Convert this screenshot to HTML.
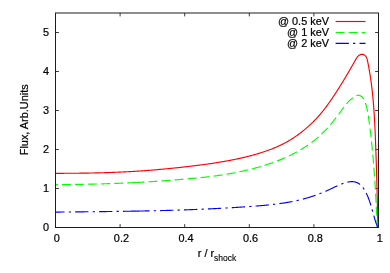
<!DOCTYPE html>
<html><head><meta charset="utf-8"><title>plot</title>
<style>
html,body{margin:0;padding:0;background:#fff;}
svg{display:block;will-change:transform}
text{font-family:"Liberation Sans",sans-serif;font-size:10.9px;fill:#000;stroke:#000;stroke-width:0.22px}
</style></head><body>
<svg width="390" height="273" viewBox="0 0 390 273">

<g stroke="#3c3c3c" stroke-width="1" fill="none">
<path d="M120.10,227.5 v-3.4 M120.10,13.0 v3.4"/>
<path d="M184.70,227.5 v-3.4 M184.70,13.0 v3.4"/>
<path d="M249.30,227.5 v-3.4 M249.30,13.0 v3.4"/>
<path d="M313.90,227.5 v-3.4 M313.90,13.0 v3.4"/>
<path d="M55.5,188.50 h3.4 M378.5,188.50 h-3.4"/>
<path d="M55.5,149.50 h3.4 M378.5,149.50 h-3.4"/>
<path d="M55.5,110.50 h3.4 M378.5,110.50 h-3.4"/>
<path d="M55.5,71.50 h3.4 M378.5,71.50 h-3.4"/>
<path d="M55.5,32.50 h3.4 M378.5,32.50 h-3.4"/>
</g>
<text x="56.80" y="241.9" text-anchor="middle">0</text>
<text x="121.40" y="241.9" text-anchor="middle">0.2</text>
<text x="186.00" y="241.9" text-anchor="middle">0.4</text>
<text x="250.60" y="241.9" text-anchor="middle">0.6</text>
<text x="315.20" y="241.9" text-anchor="middle">0.8</text>
<text x="379.80" y="241.9" text-anchor="middle">1</text>
<text x="49" y="231.30" text-anchor="end">0</text>
<text x="49" y="192.30" text-anchor="end">1</text>
<text x="49" y="153.30" text-anchor="end">2</text>
<text x="49" y="114.30" text-anchor="end">3</text>
<text x="49" y="75.30" text-anchor="end">4</text>
<text x="49" y="36.30" text-anchor="end">5</text>
<text x="217" y="257" text-anchor="middle">r / r<tspan dy="3.8" dx="-0.2" font-size="8.55" stroke-width="0.12">shock</tspan></text>
<text transform="translate(28,119.8) rotate(-90)" text-anchor="middle">Flux, Arb.Units</text>
<text x="329" y="25.30" text-anchor="end">@ 0.5 keV</text>
<path d="M335.6,21.50 H365.5" stroke="#ff0000" stroke-width="1.15" fill="none"/>
<text x="329" y="36.25" text-anchor="end">@ 1 keV</text>
<path d="M335.6,32.45 H365.5" stroke="#00ff00" stroke-width="1.15" fill="none" stroke-dasharray="9 4.07"/>
<text x="329" y="47.20" text-anchor="end">@ 2 keV</text>
<path d="M335.6,43.40 H365.5" stroke="#0000ff" stroke-width="1.15" fill="none" stroke-dasharray="13.3 4.15 2.3 4.15"/>
<path d="M55.50,173.30 L56.26,173.30 L57.01,173.30 L57.77,173.30 L58.53,173.30 L59.28,173.30 L60.04,173.30 L60.80,173.30 L61.55,173.30 L62.31,173.30 L63.06,173.30 L63.82,173.30 L64.58,173.29 L65.33,173.29 L66.09,173.29 L66.85,173.29 L67.60,173.28 L68.36,173.28 L69.12,173.28 L69.87,173.27 L70.63,173.27 L71.38,173.26 L72.14,173.26 L72.90,173.25 L73.65,173.25 L74.41,173.24 L75.17,173.23 L75.92,173.23 L76.68,173.22 L77.43,173.21 L78.19,173.20 L78.95,173.20 L79.70,173.19 L80.46,173.18 L81.22,173.17 L81.97,173.16 L82.73,173.15 L83.48,173.14 L84.24,173.13 L85.00,173.12 L85.75,173.11 L86.51,173.09 L87.26,173.08 L88.02,173.07 L88.78,173.06 L89.53,173.04 L90.29,173.03 L91.04,173.01 L91.80,173.00 L92.56,172.98 L93.31,172.97 L94.07,172.95 L94.82,172.93 L95.58,172.92 L96.34,172.90 L97.09,172.88 L97.85,172.86 L98.60,172.84 L99.36,172.83 L100.12,172.81 L100.87,172.78 L101.63,172.76 L102.38,172.74 L103.14,172.72 L103.89,172.70 L104.65,172.68 L105.41,172.65 L106.16,172.63 L106.92,172.61 L107.67,172.58 L108.43,172.56 L109.18,172.53 L109.94,172.50 L110.70,172.48 L111.45,172.45 L112.21,172.42 L112.96,172.39 L113.72,172.36 L114.47,172.33 L115.23,172.30 L115.98,172.27 L116.74,172.24 L117.50,172.21 L118.25,172.18 L119.01,172.15 L119.76,172.11 L120.52,172.08 L121.27,172.04 L122.03,172.01 L122.78,171.97 L123.54,171.94 L124.29,171.90 L125.05,171.86 L125.80,171.82 L126.56,171.79 L127.31,171.75 L128.07,171.71 L128.82,171.67 L129.58,171.62 L130.33,171.58 L131.09,171.54 L131.84,171.50 L132.60,171.45 L133.35,171.41 L134.11,171.36 L134.86,171.32 L135.62,171.27 L136.37,171.22 L137.13,171.18 L137.88,171.13 L138.64,171.08 L139.39,171.03 L140.15,170.98 L140.90,170.93 L141.66,170.88 L142.41,170.82 L143.17,170.77 L143.92,170.72 L144.68,170.66 L145.43,170.61 L146.19,170.55 L146.94,170.50 L147.69,170.44 L148.45,170.38 L149.20,170.32 L149.96,170.26 L150.71,170.20 L151.47,170.14 L152.22,170.08 L152.98,170.02 L153.73,169.96 L154.48,169.90 L155.24,169.83 L155.99,169.77 L156.75,169.70 L157.50,169.64 L158.25,169.57 L159.01,169.50 L159.76,169.44 L160.51,169.37 L161.27,169.30 L162.02,169.23 L162.78,169.16 L163.53,169.09 L164.28,169.02 L165.04,168.95 L165.79,168.88 L166.54,168.80 L167.30,168.73 L168.05,168.66 L168.80,168.58 L169.56,168.51 L170.31,168.43 L171.06,168.36 L171.81,168.28 L172.57,168.20 L173.32,168.13 L174.07,168.05 L174.83,167.97 L175.58,167.89 L176.33,167.81 L177.08,167.73 L177.84,167.65 L178.59,167.57 L179.34,167.49 L180.09,167.40 L180.84,167.32 L181.60,167.24 L182.35,167.16 L183.10,167.07 L183.85,166.99 L184.60,166.90 L185.35,166.82 L186.10,166.73 L186.86,166.64 L187.61,166.56 L188.36,166.47 L189.11,166.38 L189.86,166.29 L190.61,166.20 L191.36,166.11 L192.11,166.02 L192.86,165.93 L193.61,165.84 L194.36,165.75 L195.11,165.66 L195.86,165.57 L196.61,165.47 L197.36,165.38 L198.11,165.29 L198.86,165.19 L199.61,165.09 L200.36,165.00 L201.11,164.90 L201.86,164.80 L202.61,164.70 L203.36,164.60 L204.11,164.50 L204.86,164.40 L205.60,164.30 L206.35,164.20 L207.10,164.09 L207.85,163.99 L208.60,163.88 L209.34,163.78 L210.09,163.67 L210.84,163.56 L211.59,163.45 L212.33,163.34 L213.08,163.23 L213.83,163.12 L214.57,163.00 L215.32,162.89 L216.07,162.77 L216.81,162.65 L217.56,162.54 L218.30,162.42 L219.05,162.30 L219.79,162.17 L220.54,162.05 L221.28,161.93 L222.03,161.80 L222.77,161.67 L223.52,161.54 L224.26,161.41 L225.00,161.28 L225.75,161.15 L226.49,161.02 L227.23,160.88 L227.97,160.74 L228.72,160.61 L229.46,160.47 L230.20,160.32 L230.94,160.18 L231.68,160.04 L232.43,159.89 L233.17,159.74 L233.91,159.59 L234.65,159.44 L235.39,159.29 L236.13,159.13 L236.87,158.98 L237.61,158.82 L238.35,158.66 L239.09,158.50 L239.82,158.34 L240.56,158.17 L241.30,158.01 L242.04,157.84 L242.78,157.67 L243.51,157.49 L244.25,157.32 L244.99,157.14 L245.72,156.97 L246.46,156.79 L247.20,156.60 L247.93,156.42 L248.67,156.23 L249.40,156.05 L250.14,155.86 L250.87,155.66 L251.60,155.47 L252.34,155.27 L253.07,155.07 L253.80,154.87 L254.54,154.67 L255.27,154.46 L256.00,154.25 L256.73,154.04 L257.46,153.83 L258.19,153.61 L258.91,153.40 L259.64,153.17 L260.37,152.95 L261.09,152.72 L261.82,152.49 L262.54,152.26 L263.26,152.03 L263.98,151.79 L264.70,151.55 L265.42,151.30 L266.14,151.05 L266.86,150.80 L267.57,150.55 L268.28,150.29 L269.00,150.03 L269.71,149.76 L270.42,149.50 L271.13,149.23 L271.83,148.95 L272.54,148.67 L273.24,148.39 L273.94,148.11 L274.64,147.82 L275.34,147.52 L276.03,147.23 L276.73,146.93 L277.42,146.62 L278.11,146.31 L278.80,146.00 L279.48,145.68 L280.17,145.36 L280.85,145.04 L281.53,144.71 L282.21,144.37 L282.88,144.03 L283.56,143.69 L284.23,143.34 L284.89,142.99 L285.56,142.64 L286.22,142.28 L286.89,141.91 L287.54,141.54 L288.20,141.17 L288.85,140.79 L289.50,140.40 L290.15,140.01 L290.80,139.62 L291.44,139.22 L292.08,138.82 L292.71,138.41 L293.35,138.00 L293.98,137.58 L294.61,137.15 L295.23,136.73 L295.85,136.30 L296.47,135.86 L297.09,135.42 L297.70,134.98 L298.32,134.53 L298.93,134.08 L299.53,133.62 L300.14,133.17 L300.74,132.70 L301.33,132.24 L301.93,131.77 L302.52,131.30 L303.11,130.83 L303.70,130.35 L304.29,129.87 L304.87,129.39 L305.45,128.90 L306.03,128.41 L306.60,127.92 L307.18,127.43 L307.75,126.93 L308.31,126.43 L308.88,125.93 L309.44,125.43 L309.99,124.92 L310.55,124.41 L311.10,123.89 L311.65,123.37 L312.19,122.85 L312.73,122.33 L313.27,121.80 L313.81,121.27 L314.34,120.73 L314.86,120.19 L315.39,119.65 L315.91,119.10 L316.43,118.55 L316.94,118.00 L317.45,117.44 L317.95,116.88 L318.46,116.32 L318.96,115.75 L319.45,115.18 L319.94,114.61 L320.43,114.04 L320.92,113.46 L321.40,112.87 L321.88,112.29 L322.36,111.70 L322.83,111.11 L323.31,110.52 L323.77,109.92 L324.24,109.33 L324.70,108.73 L325.16,108.13 L325.62,107.52 L326.08,106.92 L326.53,106.31 L326.98,105.70 L327.43,105.08 L327.87,104.47 L328.32,103.86 L328.76,103.24 L329.20,102.62 L329.64,102.00 L330.07,101.38 L330.50,100.75 L330.93,100.13 L331.36,99.51 L331.79,98.88 L332.22,98.25 L332.64,97.62 L333.06,96.99 L333.49,96.36 L333.91,95.73 L334.32,95.10 L334.74,94.47 L335.16,93.84 L335.57,93.21 L335.98,92.57 L336.39,91.94 L336.80,91.31 L337.21,90.67 L337.62,90.04 L338.03,89.40 L338.43,88.76 L338.84,88.13 L339.24,87.49 L339.64,86.85 L340.04,86.21 L340.44,85.57 L340.84,84.94 L341.24,84.29 L341.63,83.65 L342.03,83.01 L342.42,82.37 L342.82,81.73 L343.21,81.09 L343.60,80.44 L343.99,79.80 L344.38,79.15 L344.77,78.51 L345.16,77.86 L345.55,77.21 L345.93,76.56 L346.32,75.92 L346.70,75.27 L347.09,74.62 L347.47,73.96 L347.85,73.31 L348.23,72.66 L348.61,72.01 L348.99,71.35 L349.37,70.70 L349.75,70.04 L350.13,69.39 L350.51,68.73 L350.88,68.07 L351.26,67.41 L351.64,66.75 L352.01,66.09 L352.39,65.43 L352.76,64.77 L353.13,64.11 L353.51,63.44 L353.88,62.78 L354.25,62.11 L354.62,61.45 L354.99,60.78 L355.36,60.11 L355.74,59.44 L356.11,58.78 L356.51,58.13 L356.93,57.50 L357.38,56.90 L357.88,56.34 L358.43,55.82 L359.04,55.36 L359.72,54.96 L360.45,54.65 L361.22,54.44 L362.00,54.36 L362.76,54.42 L363.50,54.63 L364.20,54.96 L364.83,55.39 L365.39,55.90 L365.87,56.46 L366.27,57.06 L366.60,57.71 L366.88,58.39 L367.11,59.10 L367.30,59.83 L367.47,60.57 L367.63,61.32 L367.78,62.07 L367.94,62.82 L368.08,63.57 L368.23,64.32 L368.38,65.07 L368.52,65.82 L368.66,66.57 L368.80,67.32 L368.94,68.07 L369.07,68.82 L369.20,69.57 L369.33,70.32 L369.46,71.07 L369.59,71.82 L369.71,72.57 L369.84,73.32 L369.96,74.07 L370.08,74.82 L370.20,75.57 L370.31,76.32 L370.43,77.08 L370.54,77.83 L370.65,78.58 L370.76,79.33 L370.86,80.08 L370.97,80.83 L371.07,81.58 L371.17,82.33 L371.27,83.09 L371.37,83.84 L371.47,84.59 L371.56,85.34 L371.66,86.09 L371.75,86.84 L371.84,87.59 L371.93,88.35 L372.02,89.10 L372.10,89.85 L372.19,90.60 L372.27,91.35 L372.35,92.11 L372.43,92.86 L372.51,93.61 L372.59,94.36 L372.67,95.12 L372.74,95.87 L372.81,96.62 L372.89,97.37 L372.96,98.13 L373.03,98.88 L373.10,99.63 L373.16,100.38 L373.23,101.14 L373.29,101.89 L373.36,102.64 L373.42,103.40 L373.48,104.15 L373.54,104.90 L373.60,105.65 L373.66,106.41 L373.72,107.16 L373.77,107.91 L373.83,108.67 L373.88,109.42 L373.94,110.17 L373.99,110.93 L374.04,111.68 L374.09,112.44 L374.14,113.19 L374.19,113.94 L374.24,114.70 L374.28,115.45 L374.33,116.20 L374.37,116.96 L374.42,117.71 L374.46,118.47 L374.51,119.22 L374.55,119.97 L374.59,120.73 L374.63,121.48 L374.67,122.24 L374.71,122.99 L374.75,123.74 L374.79,124.50 L374.83,125.25 L374.86,126.01 L374.90,126.76 L374.94,127.52 L374.97,128.27 L375.01,129.03 L375.04,129.78 L375.07,130.54 L375.11,131.29 L375.14,132.05 L375.17,132.80 L375.21,133.55 L375.24,134.31 L375.27,135.06 L375.30,135.82 L375.33,136.57 L375.36,137.33 L375.39,138.09 L375.42,138.84 L375.45,139.60 L375.48,140.35 L375.51,141.11 L375.54,141.86 L375.57,142.62 L375.60,143.37 L375.63,144.13 L375.66,144.88 L375.69,145.64 L375.71,146.39 L375.74,147.15 L375.77,147.91 L375.80,148.66 L375.82,149.42 L375.85,150.17 L375.88,150.93 L375.90,151.68 L375.93,152.44 L375.96,153.20 L375.98,153.95 L376.01,154.71 L376.03,155.46 L376.06,156.22 L376.08,156.98 L376.11,157.73 L376.13,158.49 L376.16,159.24 L376.18,160.00 L376.21,160.76 L376.23,161.51 L376.25,162.27 L376.28,163.03 L376.30,163.78 L376.33,164.54 L376.35,165.29 L376.37,166.05 L376.39,166.81 L376.42,167.56 L376.44,168.32 L376.46,169.08 L376.48,169.83 L376.51,170.59 L376.53,171.35 L376.55,172.10 L376.57,172.86 L376.59,173.61 L376.61,174.37 L376.64,175.13 L376.66,175.88 L376.68,176.64 L376.70,177.40 L376.72,178.15 L376.74,178.91 L376.76,179.67 L376.78,180.42 L376.80,181.18 L376.82,181.94 L376.84,182.69 L376.86,183.45 L376.88,184.21 L376.90,184.96 L376.92,185.72 L376.94,186.47 L376.96,187.23 L376.98,187.99 L377.00,188.74 L377.02,189.50 L377.03,190.26 L377.05,191.01 L377.07,191.77 L377.09,192.53 L377.11,193.28 L377.13,194.04 L377.15,194.80 L377.16,195.55 L377.18,196.31 L377.20,197.06 L377.22,197.82 L377.24,198.58 L377.26,199.33 L377.27,200.09 L377.29,200.85 L377.31,201.60 L377.33,202.36 L377.35,203.11 L377.36,203.87 L377.38,204.63 L377.40,205.38 L377.42,206.14 L377.43,206.90 L377.45,207.65 L377.47,208.41 L377.49,209.16 L377.50,209.92 L377.52,210.68 L377.54,211.43 L377.56,212.19 L377.57,212.94 L377.59,213.70 L377.61,214.46 L377.62,215.21 L377.64,215.97 L377.66,216.72 L377.68,217.48 L377.69,218.23 L377.71,218.99 L377.73,219.75 L377.74,220.50 L377.76,221.26 L377.78,222.01 L377.80,222.77 L377.81,223.52 L377.83,224.28 L377.85,225.03 L377.87,225.79 L377.88,226.54 L377.90,227.30" stroke="#ff0000" stroke-width="1.15" fill="none" stroke-linejoin="round"/>
<path d="M55.50,184.70 L56.17,184.69 L56.83,184.69 L57.50,184.68 L58.16,184.67 L58.83,184.67 L59.50,184.66 L60.16,184.65 L60.83,184.64 L61.50,184.64 L62.16,184.63 L62.83,184.62 L63.50,184.61 L64.16,184.60 L64.83,184.60 L65.50,184.59 L66.16,184.58 L66.83,184.57 L67.50,184.56 L68.16,184.55 L68.83,184.54 L69.50,184.53 L70.16,184.52 L70.83,184.51 L71.50,184.50 L72.16,184.49 L72.83,184.48 L73.50,184.47 L74.16,184.46 L74.83,184.45 L75.50,184.44 L76.17,184.43 L76.83,184.42 L77.50,184.41 L78.17,184.40 L78.83,184.38 L79.50,184.37 L80.17,184.36 L80.84,184.35 L81.50,184.34 L82.17,184.32 L82.84,184.31 L83.50,184.30 L84.17,184.28 L84.84,184.27 L85.51,184.26 L86.17,184.24 L86.84,184.23 L87.51,184.21 L88.17,184.20 L88.84,184.18 L89.51,184.17 L90.18,184.15 L90.84,184.14 L91.51,184.12 L92.18,184.11 L92.85,184.09 L93.51,184.08 L94.18,184.06 L94.85,184.04 L95.52,184.03 L96.18,184.01 L96.85,183.99 L97.52,183.97 L98.18,183.96 L98.85,183.94 L99.52,183.92 L100.19,183.90 L100.85,183.88 L101.52,183.86 L102.19,183.85 L102.86,183.83 L103.52,183.81 L104.19,183.79 L104.86,183.77 L105.52,183.75 L106.19,183.73 L106.86,183.70 L107.53,183.68 L108.19,183.66 L108.86,183.64 L109.53,183.62 L110.20,183.60 L110.86,183.57 L111.53,183.55 L112.20,183.53 L112.86,183.50 L113.53,183.48 L114.20,183.46 L114.86,183.43 L115.53,183.41 L116.20,183.38 L116.87,183.36 L117.53,183.33 L118.20,183.31 L118.87,183.28 L119.53,183.26 L120.20,183.23 L120.87,183.20 L121.53,183.18 L122.20,183.15 L122.87,183.12 L123.53,183.09 L124.20,183.07 L124.87,183.04 L125.53,183.01 L126.20,182.98 L126.87,182.95 L127.53,182.92 L128.20,182.89 L128.87,182.86 L129.53,182.83 L130.20,182.80 L130.86,182.77 L131.53,182.74 L132.20,182.71 L132.86,182.67 L133.53,182.64 L134.20,182.61 L134.86,182.57 L135.53,182.54 L136.19,182.51 L136.65,182.48" stroke="#00ff00" stroke-width="1.15" fill="none" stroke-dasharray="9 4.07" stroke-dashoffset="6.57" stroke-linejoin="round"/>
<path d="M136.25,182.50 L136.86,182.47 L137.52,182.44 L138.19,182.40 L138.86,182.37 L139.52,182.33 L140.19,182.30 L140.85,182.26 L141.52,182.23 L142.18,182.19 L142.85,182.15 L143.52,182.11 L144.18,182.08 L144.85,182.04 L145.51,182.00 L146.18,181.96 L146.84,181.92 L147.51,181.88 L148.17,181.84 L148.84,181.80 L149.50,181.76 L150.17,181.72 L150.83,181.68 L151.50,181.64 L152.16,181.59 L152.82,181.55 L153.49,181.51 L154.15,181.47 L154.82,181.42 L155.48,181.38 L156.15,181.33 L156.81,181.29 L157.48,181.24 L158.14,181.20 L158.80,181.15 L159.47,181.11 L160.13,181.06 L160.80,181.01 L161.46,180.97 L162.13,180.92 L162.79,180.87 L163.45,180.82 L164.12,180.77 L164.78,180.73 L165.45,180.68 L166.11,180.63 L166.78,180.58 L167.44,180.53 L168.10,180.48 L168.77,180.43 L169.43,180.37 L170.10,180.32 L170.76,180.27 L171.43,180.22 L172.09,180.17 L172.76,180.11 L173.42,180.06 L174.08,180.01 L174.75,179.95 L175.41,179.90 L176.08,179.84 L176.74,179.79 L177.41,179.73 L178.07,179.68 L178.74,179.62 L179.40,179.57 L180.07,179.51 L180.74,179.45 L181.40,179.40 L182.07,179.34 L182.73,179.28 L183.40,179.22 L184.06,179.16 L184.73,179.11 L185.40,179.05 L186.06,178.99 L186.73,178.93 L187.40,178.87 L188.06,178.81 L188.73,178.75 L189.40,178.69 L190.06,178.63 L190.73,178.56 L191.40,178.50 L192.06,178.44 L192.73,178.38 L193.40,178.32 L194.07,178.25 L194.73,178.19 L195.40,178.13 L196.07,178.06 L196.74,178.00 L197.41,177.93 L198.07,177.86 L198.74,177.80 L199.41,177.73 L200.08,177.66 L200.74,177.59 L201.41,177.53 L202.08,177.46 L202.74,177.39 L203.41,177.31 L204.08,177.24 L204.74,177.17 L205.41,177.10 L206.07,177.02 L206.74,176.95 L207.40,176.87 L208.07,176.80 L208.73,176.72 L209.40,176.64 L210.06,176.56 L210.72,176.48 L211.39,176.40 L212.05,176.32 L212.71,176.24 L213.37,176.15 L214.03,176.07 L214.69,175.98 L215.35,175.89 L216.01,175.81 L216.67,175.72 L217.33,175.63 L217.99,175.53 L218.65,175.44 L219.30,175.35 L219.96,175.25 L220.62,175.16 L221.27,175.06 L221.93,174.96 L222.58,174.86 L223.23,174.76 L223.89,174.66 L224.54,174.55 L225.19,174.45 L225.84,174.34 L226.49,174.23 L227.14,174.12 L227.79,174.01 L228.45,173.90 L229.10,173.79 L229.74,173.67 L230.39,173.56 L231.04,173.44 L231.69,173.32 L232.34,173.20 L232.99,173.08 L233.64,172.96 L234.29,172.83 L234.94,172.71 L235.59,172.58 L236.23,172.46 L236.88,172.33 L237.53,172.20 L238.18,172.06 L238.83,171.93 L239.48,171.79 L240.13,171.66 L240.78,171.52 L241.43,171.38 L242.08,171.24 L242.73,171.10 L243.38,170.96 L244.03,170.81 L244.68,170.66 L245.33,170.52 L245.99,170.37 L246.64,170.22 L247.29,170.06 L247.94,169.91 L248.59,169.75 L249.24,169.60 L249.89,169.44 L250.54,169.28 L251.19,169.11 L251.84,168.95 L252.49,168.78 L253.14,168.62 L253.79,168.45 L254.44,168.28 L255.09,168.10 L255.74,167.93 L256.39,167.75 L257.04,167.58 L257.69,167.40 L258.34,167.22 L258.98,167.03 L259.63,166.85 L260.28,166.66 L260.92,166.47 L261.57,166.28 L262.21,166.09 L262.86,165.90 L263.50,165.70 L264.15,165.50 L264.79,165.30 L265.43,165.10 L266.08,164.90 L266.72,164.69 L267.36,164.48 L268.00,164.27 L268.64,164.06 L269.28,163.85 L269.91,163.63 L270.55,163.41 L271.19,163.19 L271.82,162.97 L272.46,162.75 L273.09,162.52 L273.72,162.29 L274.36,162.06 L274.99,161.83 L275.62,161.59 L276.25,161.36 L276.88,161.12 L277.50,160.88 L278.13,160.63 L278.75,160.39 L279.38,160.14 L280.00,159.89 L280.62,159.63 L281.24,159.38 L281.86,159.12 L282.48,158.86 L283.10,158.60 L283.72,158.34 L284.33,158.07 L284.95,157.80 L285.56,157.53 L286.17,157.26 L286.78,156.98 L287.39,156.70 L287.99,156.42 L288.60,156.14 L289.20,155.85 L289.81,155.56 L290.41,155.27 L291.01,154.98 L291.61,154.68 L292.20,154.38 L292.80,154.08 L293.39,153.78 L293.99,153.47 L294.58,153.16 L295.17,152.85 L295.75,152.53 L296.34,152.22 L296.92,151.90 L297.51,151.58 L298.09,151.25 L298.66,150.92 L299.24,150.59 L299.82,150.26 L300.39,149.92 L300.96,149.59 L301.53,149.24 L302.10,148.90 L302.67,148.55 L303.23,148.20 L303.79,147.85 L304.35,147.50 L304.91,147.14 L305.47,146.78 L306.02,146.41 L306.57,146.05 L307.12,145.68 L307.67,145.30 L308.22,144.93 L308.76,144.55 L309.30,144.17 L309.84,143.78 L310.38,143.40 L310.92,143.01 L311.45,142.61 L311.98,142.22 L312.51,141.82 L313.03,141.41 L313.56,141.01 L314.08,140.60 L314.60,140.19 L315.11,139.77 L315.63,139.36 L316.14,138.93 L316.65,138.51 L317.16,138.08 L317.66,137.65 L318.16,137.22 L318.66,136.78 L319.16,136.34 L319.65,135.90 L320.14,135.45 L320.63,135.00 L321.12,134.55 L321.60,134.09 L322.08,133.63 L322.56,133.17 L323.04,132.70 L323.51,132.23 L323.98,131.76 L324.45,131.28 L324.91,130.81 L325.38,130.32 L325.84,129.84 L326.30,129.35 L326.75,128.86 L327.20,128.37 L327.66,127.88 L328.10,127.38 L328.55,126.88 L328.99,126.38 L329.44,125.88 L329.88,125.37 L330.31,124.86 L330.75,124.35 L331.18,123.84 L331.61,123.32 L332.04,122.81 L332.47,122.29 L332.90,121.77 L333.32,121.24 L333.74,120.72 L334.16,120.19 L334.58,119.67 L334.99,119.14 L335.41,118.61 L335.82,118.08 L336.23,117.54 L336.64,117.01 L337.05,116.47 L337.45,115.94 L337.86,115.40 L338.26,114.86 L338.66,114.32 L339.06,113.78 L339.45,113.24 L339.85,112.69 L340.24,112.15 L340.64,111.61 L341.03,111.06 L341.42,110.52 L341.81,109.98 L342.20,109.43 L342.60,108.89 L342.99,108.35 L343.39,107.82 L343.79,107.28 L344.19,106.75 L344.59,106.22 L345.00,105.70 L345.41,105.18 L345.83,104.66 L346.25,104.15 L346.67,103.65 L347.11,103.15 L347.55,102.66 L347.99,102.17 L348.44,101.69 L348.90,101.22 L349.37,100.76 L349.85,100.31 L350.34,99.86 L350.83,99.43 L351.34,99.00 L351.85,98.58 L352.38,98.18 L352.92,97.78 L353.47,97.40 L354.03,97.02 L354.60,96.66 L355.19,96.32 L355.79,96.00 L356.40,95.72 L357.01,95.49 L357.63,95.34 L358.26,95.27 L358.89,95.30 L359.52,95.43 L360.14,95.66 L360.74,95.96 L361.31,96.34 L361.86,96.77 L362.36,97.24 L362.81,97.75 L363.23,98.29 L363.60,98.85 L363.94,99.44 L364.25,100.05 L364.54,100.67 L364.80,101.31 L365.04,101.96 L365.27,102.61 L365.48,103.27 L365.69,103.92 L365.89,104.58 L366.08,105.23 L366.26,105.89 L366.43,106.54 L366.60,107.19 L366.77,107.85 L366.92,108.50 L367.07,109.16 L367.21,109.81 L367.35,110.46 L367.49,111.12 L367.61,111.77 L367.74,112.43 L367.86,113.08 L367.97,113.73 L368.08,114.39 L368.19,115.04 L368.29,115.69 L368.40,116.35 L368.49,117.00 L368.59,117.66 L368.68,118.31 L368.78,118.97 L368.87,119.62 L368.96,120.28 L369.04,120.94 L369.13,121.59 L369.22,122.25 L369.30,122.91 L369.39,123.56 L369.47,124.22 L369.56,124.88 L369.64,125.54 L369.73,126.20 L369.81,126.86 L369.89,127.52 L369.97,128.18 L370.05,128.84 L370.14,129.50 L370.22,130.16 L370.30,130.82 L370.37,131.49 L370.45,132.15 L370.53,132.81 L370.61,133.47 L370.69,134.14 L370.76,134.80 L370.84,135.46 L370.91,136.13 L370.99,136.79 L371.06,137.45 L371.14,138.12 L371.21,138.78 L371.28,139.45 L371.36,140.11 L371.43,140.78 L371.50,141.44 L371.57,142.10 L371.64,142.77 L371.71,143.44 L371.78,144.10 L371.85,144.77 L371.91,145.43 L371.98,146.10 L372.05,146.76 L372.11,147.43 L372.18,148.09 L372.25,148.76 L372.31,149.42 L372.37,150.09 L372.44,150.75 L372.50,151.42 L372.56,152.09 L372.63,152.75 L372.69,153.42 L372.75,154.08 L372.81,154.75 L372.87,155.41 L372.93,156.08 L372.99,156.74 L373.05,157.41 L373.10,158.07 L373.16,158.74 L373.22,159.40 L373.27,160.07 L373.33,160.73 L373.39,161.40 L373.44,162.07 L373.50,162.73 L373.55,163.40 L373.60,164.06 L373.66,164.73 L373.71,165.39 L373.76,166.06 L373.81,166.72 L373.87,167.39 L373.92,168.05 L373.97,168.72 L374.02,169.38 L374.07,170.05 L374.12,170.71 L374.17,171.38 L374.21,172.04 L374.26,172.71 L374.31,173.37 L374.36,174.04 L374.40,174.70 L374.45,175.37 L374.50,176.03 L374.54,176.70 L374.59,177.36 L374.63,178.03 L374.68,178.69 L374.72,179.36 L374.77,180.02 L374.81,180.69 L374.85,181.35 L374.90,182.02 L374.94,182.68 L374.98,183.35 L375.03,184.01 L375.07,184.68 L375.11,185.34 L375.15,186.01 L375.19,186.67 L375.23,187.34 L375.27,188.00 L375.31,188.67 L375.35,189.33 L375.39,190.00 L375.43,190.66 L375.47,191.33 L375.51,191.99 L375.55,192.66 L375.58,193.32 L375.62,193.99 L375.66,194.66 L375.70,195.32 L375.74,195.99 L375.77,196.65 L375.81,197.32 L375.85,197.98 L375.88,198.65 L375.92,199.31 L375.95,199.98 L375.99,200.64 L376.02,201.31 L376.06,201.98 L376.10,202.64 L376.13,203.31 L376.16,203.97 L376.20,204.64 L376.23,205.30 L376.27,205.97 L376.30,206.64 L376.34,207.30 L376.37,207.97 L376.40,208.63 L376.44,209.30 L376.47,209.97 L376.50,210.63 L376.54,211.30 L376.57,211.96 L376.60,212.63 L376.63,213.30 L376.67,213.96 L376.70,214.63 L376.73,215.30 L376.76,215.96 L376.80,216.63 L376.83,217.30 L376.86,217.96 L376.89,218.63 L376.92,219.30 L376.95,219.96 L376.99,220.63 L377.02,221.30 L377.05,221.96 L377.08,222.63 L377.11,223.30 L377.14,223.96 L377.18,224.63 L377.21,225.30 L377.24,225.97 L377.27,226.63 L377.30,227.30" stroke="#00ff00" stroke-width="1.15" fill="none" stroke-dasharray="9 4.07" stroke-dashoffset="0.8" stroke-linejoin="round"/>
<path d="M55.50,212.10 L56.01,212.09 L56.52,212.09 L57.03,212.08 L57.54,212.08 L58.05,212.07 L58.56,212.07 L59.07,212.06 L59.57,212.06 L60.08,212.05 L60.59,212.05 L61.10,212.04 L61.61,212.04 L62.12,212.03 L62.63,212.02 L63.14,212.02 L63.65,212.01 L64.16,212.01 L64.67,212.00 L65.18,212.00 L65.69,211.99 L66.20,211.99 L66.70,211.98 L67.21,211.98 L67.72,211.97 L68.23,211.97 L68.74,211.96 L69.25,211.96 L69.76,211.95 L70.27,211.95 L70.78,211.94 L71.29,211.94 L71.80,211.93 L72.31,211.93 L72.82,211.92 L73.33,211.91 L73.83,211.91 L74.34,211.90 L74.85,211.90 L75.36,211.89 L75.87,211.89 L76.38,211.88 L76.89,211.88 L77.40,211.87 L77.91,211.87 L78.42,211.86 L78.93,211.86 L79.44,211.85 L79.95,211.85 L80.45,211.84 L80.96,211.84 L81.47,211.83 L81.98,211.83 L82.49,211.82 L83.00,211.82 L83.51,211.81 L84.02,211.80 L84.53,211.80 L85.04,211.79 L85.55,211.79 L86.06,211.78 L86.56,211.78 L87.07,211.77 L87.58,211.77 L88.09,211.76 L88.60,211.76 L89.11,211.75 L89.62,211.75 L90.13,211.74 L90.64,211.73 L91.15,211.73 L91.66,211.72 L92.17,211.72 L92.67,211.71 L93.18,211.71 L93.69,211.70 L94.20,211.70 L94.71,211.69 L95.22,211.68 L95.73,211.68 L96.24,211.67 L96.75,211.67 L97.26,211.66 L97.77,211.66 L98.27,211.65 L98.78,211.64 L99.29,211.64 L99.80,211.63 L100.31,211.63 L100.82,211.62 L101.33,211.61 L101.84,211.61 L102.35,211.60 L102.86,211.60 L103.37,211.59 L103.87,211.58 L104.38,211.58 L104.89,211.57 L105.40,211.57 L105.91,211.56 L106.42,211.55 L106.93,211.55 L107.44,211.54 L107.95,211.53 L108.46,211.53 L108.96,211.52 L109.47,211.51 L109.98,211.51 L110.49,211.50 L111.00,211.49 L111.51,211.49 L112.02,211.48 L112.53,211.47 L113.04,211.47 L113.55,211.46 L114.06,211.45 L114.56,211.45 L115.07,211.44 L115.58,211.43 L116.09,211.43 L116.60,211.42 L117.11,211.41 L117.62,211.41 L118.13,211.40 L118.64,211.39 L119.15,211.38 L119.65,211.38 L120.16,211.37 L120.67,211.36 L121.18,211.35 L121.69,211.35 L122.20,211.34 L122.71,211.33 L123.22,211.32 L123.73,211.32 L124.24,211.31 L124.74,211.30 L125.25,211.29 L125.76,211.28 L126.27,211.28 L126.78,211.27 L127.29,211.26 L127.80,211.25 L128.31,211.24 L128.82,211.24 L129.32,211.23 L129.83,211.22 L130.34,211.21 L130.85,211.20 L131.36,211.19 L131.87,211.18 L132.38,211.18 L132.89,211.17 L133.40,211.16 L133.91,211.15 L134.41,211.14 L134.92,211.13 L135.43,211.12 L135.94,211.11 L136.65,211.10" stroke="#0000ff" stroke-width="1.15" fill="none" stroke-dasharray="13.3 4.15 2.3 4.15" stroke-dashoffset="4.2" stroke-linejoin="round"/>
<path d="M136.25,211.11 L136.45,211.10 L136.96,211.10 L137.47,211.09 L137.98,211.08 L138.49,211.07 L138.99,211.06 L139.50,211.05 L140.01,211.04 L140.52,211.03 L141.03,211.02 L141.54,211.01 L142.05,211.00 L142.56,210.99 L143.07,210.98 L143.58,210.97 L144.08,210.96 L144.59,210.95 L145.10,210.94 L145.61,210.93 L146.12,210.92 L146.63,210.91 L147.14,210.90 L147.65,210.89 L148.16,210.87 L148.66,210.86 L149.17,210.85 L149.68,210.84 L150.19,210.83 L150.70,210.82 L151.21,210.81 L151.72,210.80 L152.23,210.79 L152.74,210.77 L153.24,210.76 L153.75,210.75 L154.26,210.74 L154.77,210.73 L155.28,210.72 L155.79,210.70 L156.30,210.69 L156.81,210.68 L157.32,210.67 L157.82,210.65 L158.33,210.64 L158.84,210.63 L159.35,210.62 L159.86,210.60 L160.37,210.59 L160.88,210.58 L161.39,210.57 L161.89,210.55 L162.40,210.54 L162.91,210.53 L163.42,210.51 L163.93,210.50 L164.44,210.49 L164.95,210.47 L165.46,210.46 L165.97,210.45 L166.47,210.43 L166.98,210.42 L167.49,210.40 L168.00,210.39 L168.51,210.38 L169.02,210.36 L169.53,210.35 L170.04,210.33 L170.55,210.32 L171.05,210.30 L171.56,210.29 L172.07,210.27 L172.58,210.26 L173.09,210.24 L173.60,210.23 L174.11,210.21 L174.62,210.20 L175.12,210.18 L175.63,210.17 L176.14,210.15 L176.65,210.13 L177.16,210.12 L177.67,210.10 L178.18,210.09 L178.69,210.07 L179.20,210.05 L179.70,210.04 L180.21,210.02 L180.72,210.00 L181.23,209.99 L181.74,209.97 L182.25,209.95 L182.76,209.94 L183.27,209.92 L183.77,209.90 L184.28,209.88 L184.79,209.87 L185.30,209.85 L185.81,209.83 L186.32,209.81 L186.83,209.79 L187.34,209.78 L187.85,209.76 L188.35,209.74 L188.86,209.72 L189.37,209.70 L189.88,209.68 L190.39,209.66 L190.90,209.65 L191.41,209.63 L191.92,209.61 L192.42,209.59 L192.93,209.57 L193.44,209.55 L193.95,209.53 L194.46,209.51 L194.97,209.49 L195.48,209.47 L195.99,209.45 L196.49,209.43 L197.00,209.41 L197.51,209.39 L198.02,209.37 L198.53,209.35 L199.04,209.32 L199.55,209.30 L200.06,209.28 L200.57,209.26 L201.07,209.24 L201.58,209.22 L202.09,209.20 L202.60,209.17 L203.11,209.15 L203.62,209.13 L204.13,209.11 L204.64,209.09 L205.14,209.06 L205.65,209.04 L206.16,209.02 L206.67,208.99 L207.18,208.97 L207.69,208.95 L208.20,208.92 L208.71,208.90 L209.21,208.88 L209.72,208.85 L210.23,208.83 L210.74,208.81 L211.25,208.78 L211.76,208.76 L212.27,208.73 L212.78,208.71 L213.28,208.68 L213.79,208.66 L214.30,208.63 L214.81,208.61 L215.32,208.58 L215.83,208.56 L216.34,208.53 L216.85,208.51 L217.36,208.48 L217.86,208.45 L218.37,208.43 L218.88,208.40 L219.39,208.38 L219.90,208.35 L220.41,208.32 L220.92,208.29 L221.43,208.27 L221.93,208.24 L222.44,208.21 L222.95,208.19 L223.46,208.16 L223.97,208.13 L224.48,208.10 L224.99,208.07 L225.50,208.05 L226.00,208.02 L226.51,207.99 L227.02,207.96 L227.53,207.93 L228.04,207.90 L228.55,207.87 L229.06,207.84 L229.57,207.81 L230.07,207.78 L230.58,207.75 L231.09,207.72 L231.60,207.69 L232.11,207.66 L232.62,207.63 L233.13,207.60 L233.64,207.57 L234.15,207.54 L234.65,207.51 L235.16,207.48 L235.67,207.45 L236.18,207.41 L236.69,207.38 L237.20,207.35 L237.71,207.32 L238.22,207.29 L238.72,207.25 L239.23,207.22 L239.74,207.19 L240.25,207.15 L240.76,207.12 L241.27,207.09 L241.78,207.05 L242.29,207.02 L242.79,206.99 L243.30,206.95 L243.81,206.92 L244.32,206.88 L244.83,206.85 L245.34,206.81 L245.85,206.78 L246.36,206.74 L246.86,206.71 L247.37,206.67 L247.88,206.64 L248.39,206.60 L248.90,206.57 L249.41,206.53 L249.92,206.49 L250.43,206.46 L250.94,206.42 L251.44,206.38 L251.95,206.35 L252.46,206.31 L252.97,206.27 L253.48,206.23 L253.99,206.19 L254.50,206.16 L255.01,206.12 L255.51,206.08 L256.02,206.04 L256.53,206.00 L257.04,205.96 L257.55,205.92 L258.06,205.88 L258.56,205.84 L259.07,205.80 L259.58,205.75 L260.09,205.71 L260.60,205.67 L261.11,205.62 L261.61,205.58 L262.12,205.54 L262.63,205.49 L263.14,205.45 L263.65,205.40 L264.15,205.35 L264.66,205.31 L265.17,205.26 L265.68,205.21 L266.18,205.16 L266.69,205.11 L267.20,205.06 L267.70,205.01 L268.21,204.96 L268.72,204.91 L269.23,204.86 L269.73,204.81 L270.24,204.75 L270.74,204.70 L271.25,204.64 L271.76,204.59 L272.26,204.53 L272.77,204.47 L273.27,204.41 L273.78,204.36 L274.29,204.30 L274.79,204.24 L275.30,204.17 L275.80,204.11 L276.31,204.05 L276.81,203.98 L277.32,203.92 L277.82,203.85 L278.32,203.79 L278.83,203.72 L279.33,203.65 L279.84,203.58 L280.34,203.51 L280.84,203.44 L281.35,203.37 L281.85,203.29 L282.35,203.22 L282.85,203.14 L283.36,203.07 L283.86,202.99 L284.36,202.91 L284.86,202.83 L285.36,202.75 L285.87,202.67 L286.37,202.59 L286.87,202.50 L287.37,202.42 L287.87,202.33 L288.37,202.24 L288.87,202.16 L289.37,202.07 L289.87,201.98 L290.37,201.88 L290.87,201.79 L291.37,201.69 L291.86,201.60 L292.36,201.50 L292.86,201.40 L293.36,201.30 L293.86,201.20 L294.35,201.10 L294.85,201.00 L295.35,200.89 L295.84,200.78 L296.34,200.68 L296.84,200.57 L297.33,200.46 L297.83,200.34 L298.32,200.23 L298.82,200.11 L299.31,200.00 L299.81,199.88 L300.30,199.76 L300.79,199.64 L301.29,199.52 L301.78,199.39 L302.27,199.27 L302.77,199.14 L303.26,199.01 L303.75,198.88 L304.24,198.75 L304.73,198.62 L305.22,198.48 L305.71,198.35 L306.20,198.21 L306.69,198.07 L307.18,197.93 L307.67,197.78 L308.16,197.64 L308.65,197.49 L309.14,197.34 L309.63,197.19 L310.11,197.04 L310.60,196.89 L311.09,196.73 L311.57,196.57 L312.06,196.41 L312.54,196.25 L313.03,196.09 L313.51,195.93 L314.00,195.76 L314.48,195.60 L314.97,195.43 L315.45,195.26 L315.93,195.08 L316.41,194.91 L316.89,194.73 L317.37,194.56 L317.85,194.38 L318.33,194.20 L318.81,194.02 L319.29,193.84 L319.77,193.65 L320.24,193.46 L320.72,193.28 L321.19,193.09 L321.67,192.90 L322.14,192.71 L322.61,192.51 L323.09,192.32 L323.56,192.12 L324.03,191.92 L324.50,191.73 L324.97,191.52 L325.43,191.32 L325.90,191.12 L326.37,190.92 L326.83,190.71 L327.30,190.50 L327.76,190.30 L328.23,190.09 L328.69,189.87 L329.15,189.66 L329.61,189.45 L330.07,189.24 L330.52,189.02 L330.98,188.80 L331.44,188.59 L331.89,188.37 L332.35,188.15 L332.81,187.93 L333.26,187.71 L333.72,187.49 L334.17,187.27 L334.63,187.06 L335.09,186.84 L335.54,186.62 L336.00,186.41 L336.46,186.19 L336.92,185.98 L337.39,185.77 L337.85,185.56 L338.32,185.35 L338.78,185.15 L339.25,184.94 L339.73,184.74 L340.20,184.55 L340.68,184.35 L341.16,184.16 L341.64,183.97 L342.13,183.79 L342.62,183.61 L343.11,183.43 L343.60,183.26 L344.10,183.09 L344.60,182.93 L345.11,182.77 L345.61,182.62 L346.12,182.48 L346.63,182.35 L347.14,182.22 L347.65,182.11 L348.16,182.00 L348.67,181.91 L349.18,181.83 L349.69,181.76 L350.20,181.70 L350.70,181.66 L351.21,181.63 L351.71,181.61 L352.21,181.62 L352.70,181.64 L353.20,181.67 L353.69,181.73 L354.17,181.80 L354.65,181.89 L355.12,181.99 L355.59,182.12 L356.05,182.26 L356.51,182.42 L356.96,182.60 L357.40,182.80 L357.83,183.01 L358.25,183.24 L358.66,183.49 L359.07,183.76 L359.46,184.04 L359.85,184.34 L360.23,184.65 L360.60,184.98 L360.96,185.32 L361.31,185.67 L361.65,186.04 L361.99,186.41 L362.32,186.80 L362.64,187.20 L362.95,187.61 L363.25,188.03 L363.55,188.45 L363.85,188.89 L364.13,189.33 L364.41,189.77 L364.68,190.22 L364.95,190.68 L365.21,191.14 L365.46,191.61 L365.71,192.07 L365.95,192.54 L366.19,193.01 L366.42,193.49 L366.65,193.96 L366.87,194.43 L367.09,194.91 L367.30,195.38 L367.51,195.86 L367.72,196.33 L367.92,196.81 L368.11,197.29 L368.30,197.76 L368.49,198.24 L368.68,198.72 L368.86,199.20 L369.03,199.68 L369.21,200.16 L369.38,200.64 L369.54,201.13 L369.71,201.61 L369.87,202.09 L370.03,202.57 L370.19,203.06 L370.34,203.54 L370.49,204.03 L370.64,204.51 L370.79,204.99 L370.94,205.48 L371.08,205.97 L371.22,206.45 L371.36,206.94 L371.50,207.42 L371.64,207.91 L371.78,208.40 L371.92,208.88 L372.05,209.37 L372.19,209.86 L372.32,210.34 L372.45,210.83 L372.59,211.32 L372.72,211.80 L372.86,212.29 L372.99,212.78 L373.12,213.27 L373.26,213.75 L373.39,214.24 L373.53,214.73 L373.66,215.21 L373.80,215.70 L373.94,216.19 L374.08,216.67 L374.22,217.16 L374.36,217.65 L374.50,218.13 L374.65,218.62 L374.80,219.10 L374.94,219.59 L375.09,220.07 L375.25,220.56 L375.40,221.04 L375.56,221.53 L375.72,222.01 L375.89,222.49 L376.05,222.98 L376.22,223.46 L376.39,223.94 L376.57,224.42 L376.75,224.90 L376.93,225.38 L377.12,225.86 L377.31,226.34 L377.50,226.82 L377.70,227.30" stroke="#0000ff" stroke-width="1.15" fill="none" stroke-dasharray="13.3 4.15 2.3 4.15" stroke-dashoffset="0.0" stroke-linejoin="round"/>
<rect x="55.5" y="13.0" width="323.0" height="214.5" stroke="#1c1c1c" stroke-width="1" fill="none"/>
</svg></body></html>
